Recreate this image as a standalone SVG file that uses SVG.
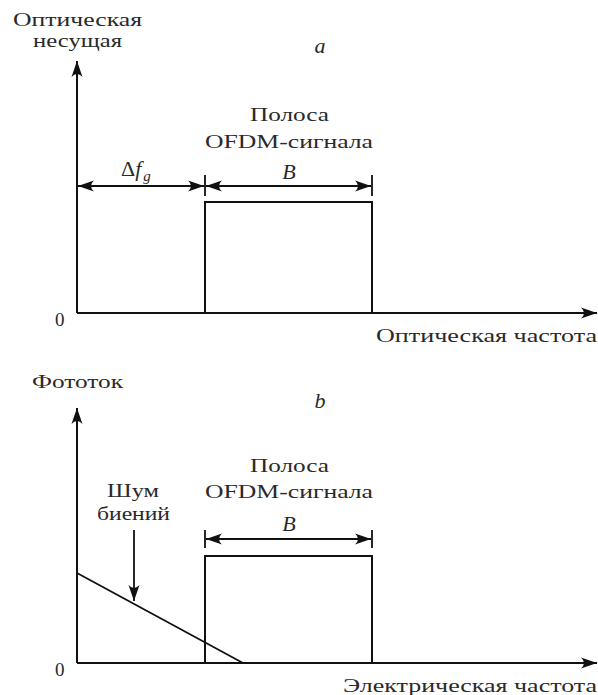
<svg xmlns="http://www.w3.org/2000/svg" width="598" height="695" viewBox="0 0 598 695">
<style>
.t{font-family:"Liberation Serif","DejaVu Serif",serif;font-size:19px;fill:#2a2a2a}
.i{font-style:italic;font-size:22px}
.ln{stroke:#111;stroke-width:2;fill:none}
.th{stroke:#111;stroke-width:1.8;fill:none}
</style>
<defs>
<marker id="ah" viewBox="-16 -6 17 12" markerWidth="17" markerHeight="12" refX="0" refY="0" orient="auto-start-reverse" markerUnits="userSpaceOnUse">
<path d="M0,0 L-16,-5.5 Q-10,0 -16,5.5 Z" fill="#111"/>
</marker>
</defs>
<rect width="598" height="695" fill="#fff"/>

<g id="panel-a">
<g id="a-labels">
<text class="t" x="13" y="26" textLength="129" lengthAdjust="spacingAndGlyphs">Оптическая</text>
<text class="t" x="33" y="47" textLength="89" lengthAdjust="spacingAndGlyphs">несущая</text>
<text class="t i" x="320" y="53" text-anchor="middle">a</text>
<text class="t" x="250" y="121" textLength="79" lengthAdjust="spacingAndGlyphs">Полоса</text>
<text class="t" x="205" y="148" textLength="168" lengthAdjust="spacingAndGlyphs">OFDM-сигнала</text>
<text class="t" x="121" y="176" style="font-size:22px">Δ<tspan style="font-style:italic;font-size:22px">f</tspan><tspan style="font-style:italic;font-size:15px" dx="2" dy="5">g</tspan></text>
<text class="t i" x="289" y="179" text-anchor="middle">B</text>
<text class="t" x="55" y="326">0</text>
<text class="t" x="376" y="342" textLength="221" lengthAdjust="spacingAndGlyphs">Оптическая частота</text>
</g>
<g id="a-band"><path class="ln" d="M205,313 V202 H372 V313"/></g>
</g>

<g id="panel-b">
<g id="b-labels">
<text class="t" x="32" y="388" textLength="91" lengthAdjust="spacingAndGlyphs">Фототок</text>
<text class="t i" x="320" y="408" text-anchor="middle">b</text>
<text class="t" x="250" y="472" textLength="79" lengthAdjust="spacingAndGlyphs">Полоса</text>
<text class="t" x="205" y="498" textLength="168" lengthAdjust="spacingAndGlyphs">OFDM-сигнала</text>
<text class="t" x="107" y="497" textLength="52" lengthAdjust="spacingAndGlyphs">Шум</text>
<text class="t" x="97" y="520" textLength="73" lengthAdjust="spacingAndGlyphs">биений</text>
<text class="t i" x="289" y="531" text-anchor="middle">B</text>
<text class="t" x="55" y="676">0</text>
<text class="t" x="343" y="692" textLength="254" lengthAdjust="spacingAndGlyphs">Электрическая частота</text>
</g>
<g id="b-band"><path class="ln" d="M205,663 V556 H372 V663"/></g>
<g id="b-noise"><path class="th" d="M77,573 L243,663"/></g>
</g>

<g id="connectors">
<path class="ln" d="M77,313 V61" marker-end="url(#ah)"/>
<path class="ln" d="M77,313 H597" marker-end="url(#ah)"/>
<path class="th" d="M78,186 H204" marker-start="url(#ah)" marker-end="url(#ah)"/>
<path class="th" d="M206,186 H371" marker-start="url(#ah)" marker-end="url(#ah)"/>
<path class="th" d="M205,175 V196 M372,175 V196"/>
<path class="ln" d="M77,663 V408" marker-end="url(#ah)"/>
<path class="ln" d="M77,663 H597" marker-end="url(#ah)"/>
<path class="th" d="M206,539 H371" marker-start="url(#ah)" marker-end="url(#ah)"/>
<path class="th" d="M205,530 V548 M372,530 V548"/>
<path class="th" d="M134,530 V601" marker-end="url(#ah)"/>
</g>
</svg>
